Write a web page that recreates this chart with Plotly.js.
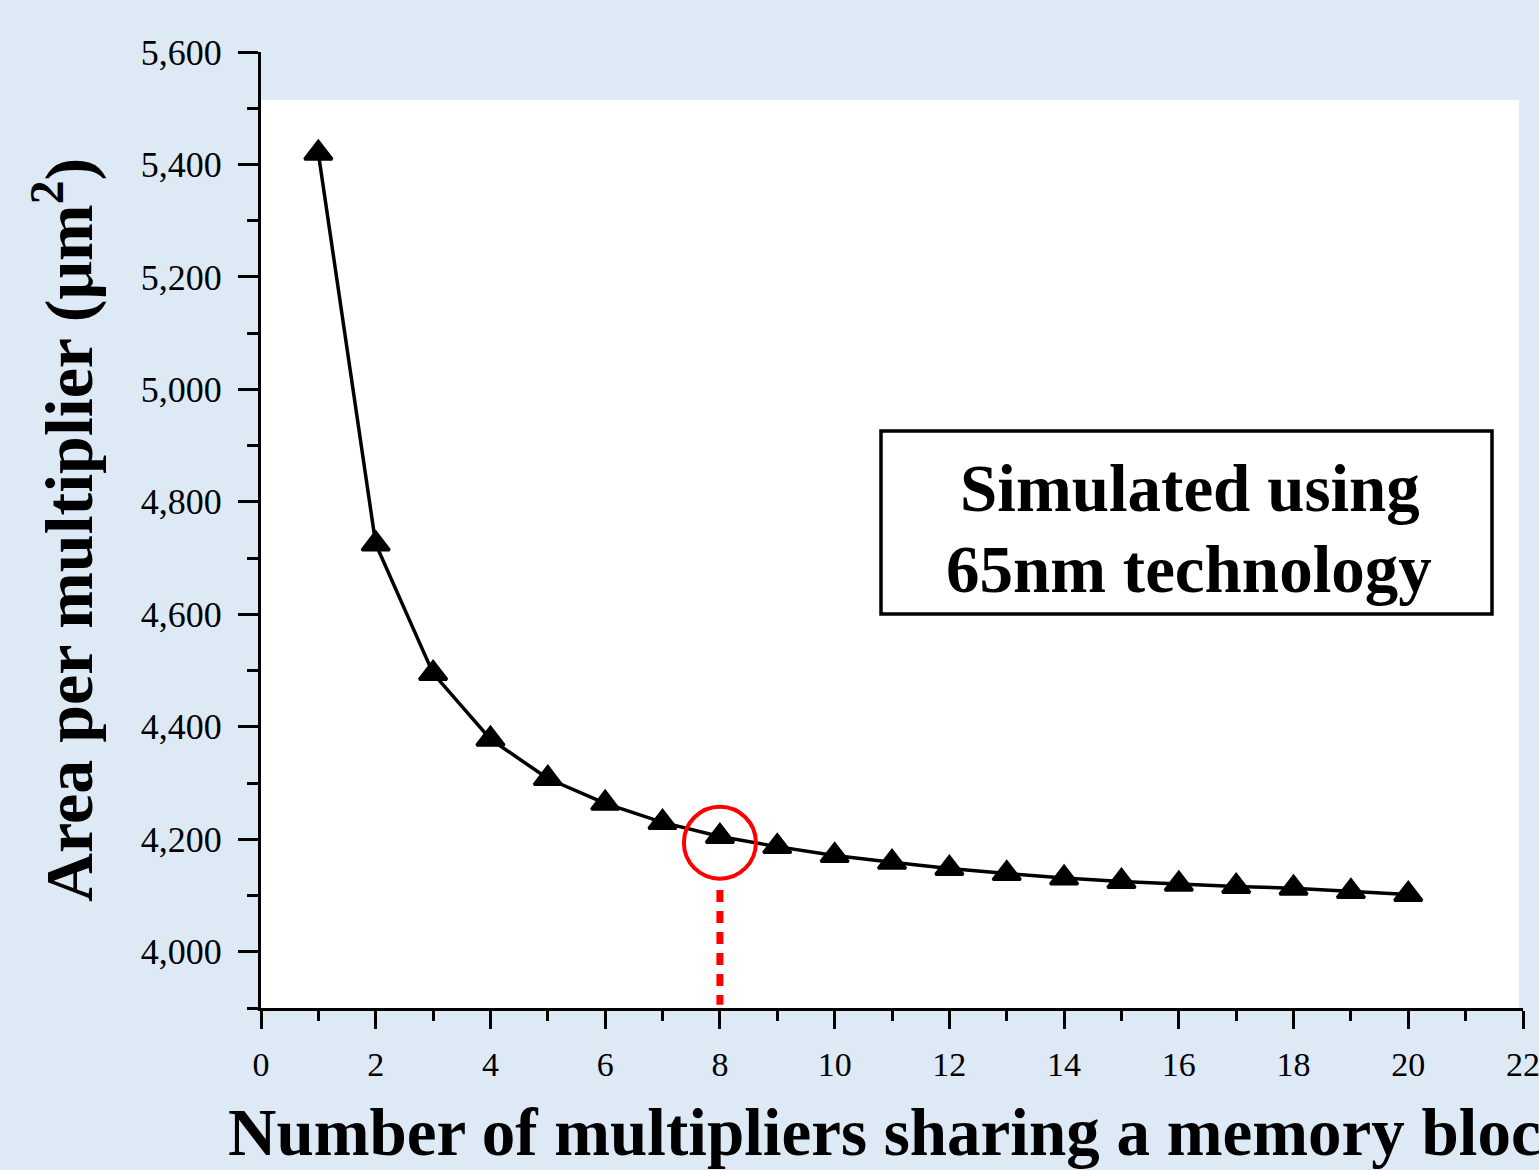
<!DOCTYPE html>
<html>
<head>
<meta charset="utf-8">
<script src="https://cdn.plot.ly/plotly-3.0.1.min.js"></script>
<style>
  html, body { margin: 0; padding: 0; background: #DDE9F5; }
  #chart { width: 1539px; height: 1170px; }
</style>
</head>
<body>
<div id="chart"></div>
<script>
// Data
const multipliers = [1,2,3,4,5,6,7,8,9,10,11,12,13,14,15,16,17,18,19,20];
const areaPerMultiplier = [5420,4725,4495,4378,4308,4264,4230,4205,4187,4171,4159,4148,4139,4131,4125,4120,4116,4113,4107,4102];
const yTickVals = [4000,4200,4400,4600,4800,5000,5200,5400,5600];
const highlightX = 8;
const xTitle = "Number of multipliers sharing a memory block";
const yTitle = "Area per multiplier (μm<sup>2</sup>)";
const boxLine1 = "Simulated using";
const boxLine2 = "65nm technology";

const BG = '#DDE9F5';
const FONT = '"Liberation Serif", "Times New Roman", serif';

const trace = {
  x: multipliers,
  y: areaPerMultiplier,
  type: 'scatter',
  mode: 'lines+markers',
  line: { color: 'black', width: 3.5 },
  marker: { symbol: 'triangle-up', size: 24, color: 'black', line: { color: 'black', width: 3 } },
  hoverinfo: 'x+y',
  showlegend: false
};

const L = 261, R = 1539 - 1523, T = 52, B = 1170 - 1008;
const W = 1539 - L - R, H = 1170 - T - B;
const px2x = p => (p - L) / W;
const px2y = p => 1 - (p - T) / H;

const layout = {
  width: 1539,
  height: 1170,
  paper_bgcolor: BG,
  plot_bgcolor: BG,
  margin: { l: L, r: R, t: T, b: B, pad: 0 },
  font: { family: FONT, color: 'black', size: 30 },
  xaxis: {
    range: [0, 22],
    tickmode: 'linear', tick0: 0, dtick: 2,
    ticks: 'outside', ticklen: 18, tickwidth: 3, tickcolor: 'black',
    showline: true, linecolor: 'black', linewidth: 3,
    showgrid: false, zeroline: false,
    tickfont: { family: FONT, size: 34, color: 'black' },
    ticklabelstandoff: 6,
    ticklabeloverflow: 'allow',
    minor: { dtick: 1, tick0: 0, ticks: 'outside', ticklen: 10, tickwidth: 3, tickcolor: 'black', showgrid: false },
    fixedrange: true
  },
  yaxis: {
    range: [3900, 5600],
    tickmode: 'array', tickvals: yTickVals,
    ticktext: yTickVals.map(v => v.toLocaleString('en-US')),
    ticks: 'outside', ticklen: 20, tickwidth: 3, tickcolor: 'black',
    showline: true, linecolor: 'black', linewidth: 3,
    showgrid: false, zeroline: false,
    tickfont: { family: FONT, size: 36, color: 'black' },
    ticklabelstandoff: 9,
    ticklabeloverflow: 'allow',
    minor: { tickmode: 'linear', dtick: 100, tick0: 3900, ticks: 'outside', ticklen: 11, tickwidth: 3, tickcolor: 'black', showgrid: false },
    fixedrange: true
  },
  shapes: [
    // white plot area (partial)
    { type: 'rect', xref: 'x', yref: 'y', x0: 0, x1: 21.93, y0: 3900, y1: 5515,
      fillcolor: 'white', line: { width: 0 }, layer: 'below' },
    // text box
    { type: 'rect', xref: 'paper', yref: 'paper',
      x0: px2x(881), x1: px2x(1492), y0: px2y(614), y1: px2y(431),
      fillcolor: 'white', line: { color: 'black', width: 3.5 }, layer: 'above' },
    // red circle
    { type: 'circle', xref: 'x', yref: 'y', xsizemode: 'pixel', ysizemode: 'pixel',
      xanchor: highlightX, yanchor: 4194, x0: -36, x1: 36, y0: -36, y1: 36,
      line: { color: '#FF0000', width: 4 }, layer: 'above' },
    // red dotted drop line
    { type: 'line', xref: 'x', yref: 'y', x0: highlightX, x1: highlightX, y0: 4110, y1: 3906,
      line: { color: '#FF0000', width: 7, dash: '12px,9px' }, layer: 'above' }
  ],
  annotations: [
    { text: boxLine1, xref: 'paper', yref: 'paper', x: px2x(1190), y: px2y(488),
      xanchor: 'center', yanchor: 'middle', showarrow: false, align: 'center',
      font: { family: FONT, size: 67, color: 'black', weight: 'bold' } },
    { text: boxLine2, xref: 'paper', yref: 'paper', x: px2x(1189), y: px2y(569),
      xanchor: 'center', yanchor: 'middle', showarrow: false, align: 'center',
      font: { family: FONT, size: 67, color: 'black', weight: 'bold' } },
    { text: xTitle, xref: 'paper', yref: 'paper', x: px2x(226), y: px2y(1132),
      xanchor: 'left', yanchor: 'middle', showarrow: false,
      font: { family: FONT, size: 67, color: 'black', weight: 'bold' } },
    { text: yTitle, xref: 'paper', yref: 'paper', x: px2x(64), y: px2y(530),
      xanchor: 'center', yanchor: 'middle', showarrow: false, textangle: -90,
      font: { family: FONT, size: 68, color: 'black', weight: 'bold' } }
  ]
};

Plotly.newPlot('chart', [trace], layout, { displayModeBar: false, staticPlot: true });
</script>
</body>
</html>
